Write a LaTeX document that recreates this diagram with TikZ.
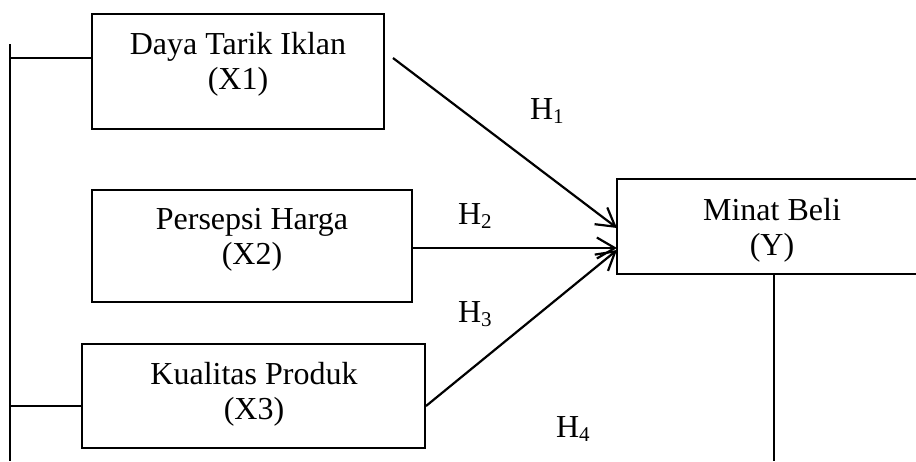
\documentclass[tikz,border=0pt]{standalone}
\usepackage{fontspec}
\setmainfont{Liberation Serif}
\usetikzlibrary{arrows.meta,calc}
\newcommand{\hsub}[1]{H\raisebox{-4pt}{\fontsize{21}{21}\selectfont #1}}
\begin{document}
\begin{tikzpicture}[x=1pt,y=-1pt,line width=2pt,
  box/.style={draw,rectangle,inner sep=0pt,line width=2pt},
  lbl/.style={align=center,inner sep=0pt,font=\fontsize{32}{35}\selectfont},
  hyp/.style={anchor=base west,inner sep=0pt,font=\fontsize{32}{35}\selectfont},
  link/.style={line width=2.2pt,-{Straight Barb[length=18pt,width=21pt,line width=2.2pt]}}]
\clip (0,0) rectangle (916,461);

% variable boxes
\node[box,minimum width=292pt,minimum height=115pt] (x1) at (238,71.5) {};
\node[box,minimum width=320pt,minimum height=112pt] (x2) at (252,246) {};
\node[box,minimum width=343pt,minimum height=104pt] (x3) at (253.5,396) {};
\node[box,minimum width=312pt,minimum height=95pt] (y) at (773,226.5) {};

% box captions
\node[lbl] (x1t) at (238,64) {Daya Tarik Iklan\\(X1)};
\node[lbl] (x2t) at (252,240) {Persepsi Harga\\(X2)};
\node[lbl] (x3t) at (254,394) {Kualitas Produk\\(X3)};
\node[lbl] (yt) at (772,230) {Minat Beli\\(Y)};

% hypothesis labels
\node[hyp] (h1) at (529,119) {\hsub{1}};
\node[hyp] (h2) at (457,224) {\hsub{2}};
\node[hyp] (h3) at (457,322) {\hsub{3}};
\node[hyp] (h4) at (555,437) {\hsub{4}};

% left bracket joining X1 and X3
\coordinate (lt) at (10,44);
\coordinate (lb) at (10,461);
\coordinate (j1) at (10,58);
\coordinate (j3) at (10,406);
\draw (lt) -- (lb);
\draw (j1) -- (j1 -| x1.west);
\draw (j3) -- (j3 -| x3.west);

% paths into Minat Beli
\coordinate (s1) at (393,58);
\coordinate (e1) at (617,228);
\coordinate (e2) at (617,248);
\coordinate (e3) at (617,250);
\draw[link] (s1) -- (e1);
\draw[link] (e2 -| x2.east) -- (e2);
\draw[link] (j3 -| x3.east) -- (e3);

% line down from Minat Beli
\coordinate (yb) at (774,461);
\draw (yb |- y.south) -- (yb);
\end{tikzpicture}
\end{document}
